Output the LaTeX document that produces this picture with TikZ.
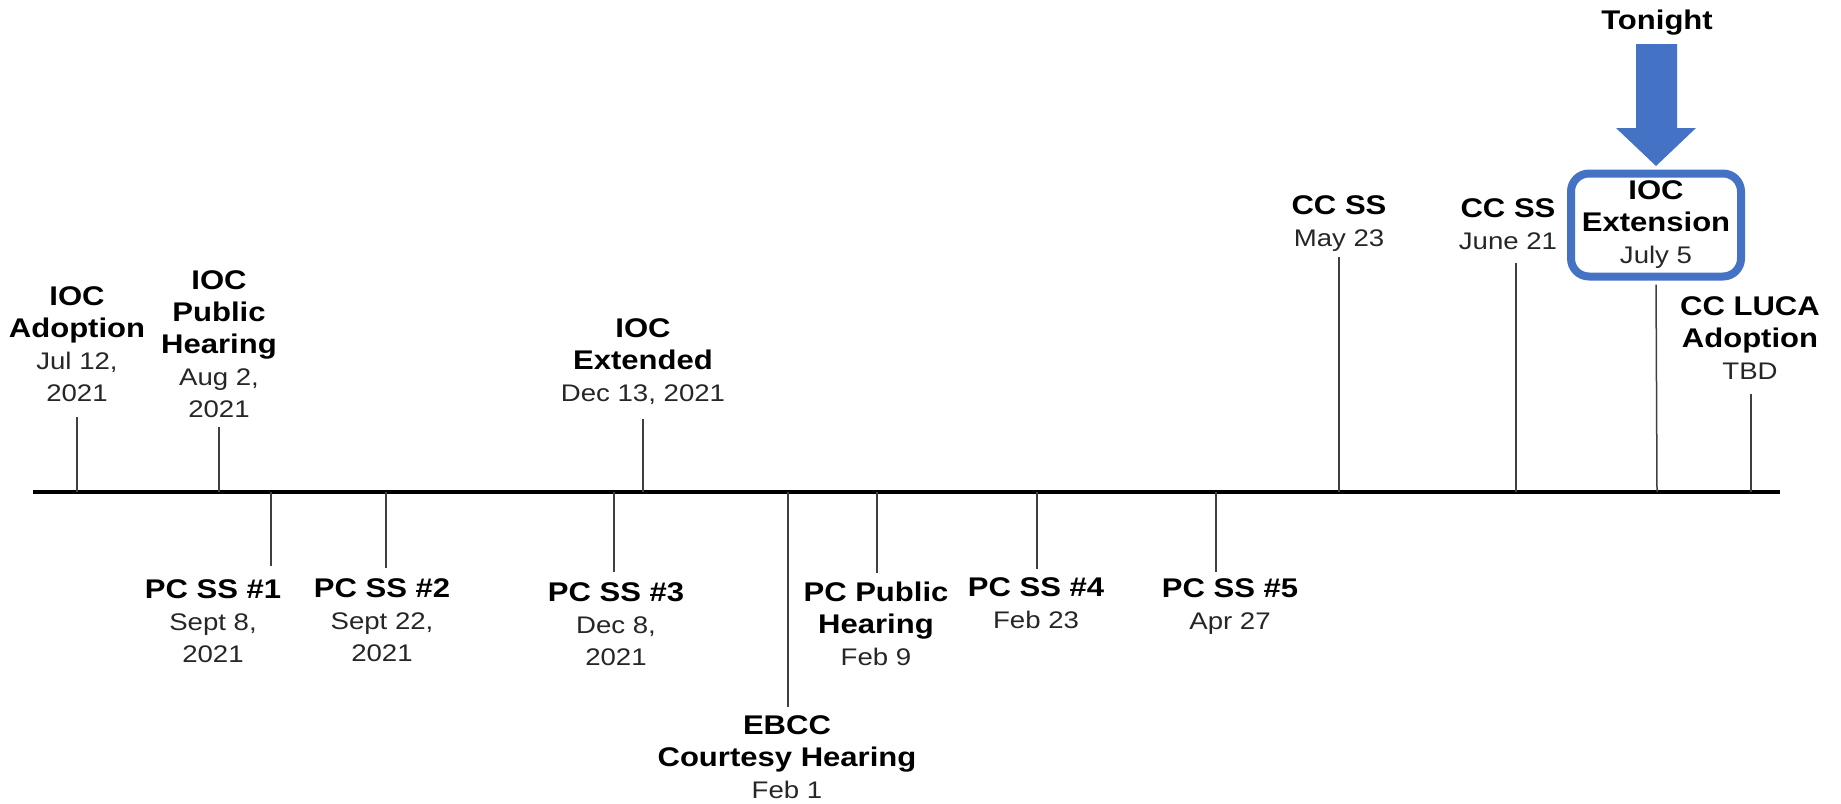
\documentclass[tikz,border=0pt]{standalone}
\usepackage{fontspec}
\setmainfont{Liberation Sans}[FakeStretch=1.15]
\definecolor{tblue}{RGB}{68,114,196}
\newcommand{\dte}[1]{{\fontsize{24}{32}\selectfont\mdseries\color{black!85}#1}}

\begin{document}
\begin{tikzpicture}[x=1pt, y=-1pt,
    evt/.style={align=center, inner sep=0pt, anchor=north,
      font=\fontsize{27}{32}\selectfont\bfseries},
    tick/.style={line width=1.5pt, black!75}]
  \useasboundingbox (0,0) rectangle (1841,803);
  % time line
  \coordinate (axl) at (33,492);
  \coordinate (axr) at (1780,492);
  \draw[line width=4pt] (axl) -- (axr);

  % above the line
  \node[evt] (adopt) at (77,286) {IOC\\Adoption\\\dte{Jul 12,}\\\dte{2021}};
  \node[evt] (pubhear) at (219,270) {IOC\\Public\\Hearing\\\dte{Aug 2,}\\\dte{2021}};
  \node[evt] (extended) at (643,318) {IOC\\Extended\\\dte{Dec 13, 2021}};
  \node[evt] (ccmay) at (1339,195) {CC SS\\\dte{May 23}};
  \node[evt] (ccjune) at (1508,198) {CC SS\\\dte{June 21}};
  \node[evt] (luca) at (1750,296) {CC LUCA\\Adoption\\\dte{TBD}};

  % below the line
  \node[evt] (pcss1) at (213,579) {PC SS \#1\\\dte{Sept 8,}\\\dte{2021}};
  \node[evt] (pcss2) at (382,578) {PC SS \#2\\\dte{Sept 22,}\\\dte{2021}};
  \node[evt] (pcss3) at (616,582) {PC SS \#3\\\dte{Dec 8,}\\\dte{2021}};
  \node[evt] (ebcc) at (787,715) {EBCC\\Courtesy Hearing\\\dte{Feb 1}};
  \node[evt] (pcpub) at (876,582) {PC Public\\Hearing\\\dte{Feb 9}};
  \node[evt] (pcss4) at (1036,577) {PC SS \#4\\\dte{Feb 23}};
  \node[evt] (pcss5) at (1230,578) {PC SS \#5\\\dte{Apr 27}};

  % ticks
  \foreach \n/\x/\g in {adopt/77/16pt, pubhear/219/10pt, extended/643/14.5pt,
      ccmay/1339/6pt, ccjune/1516/14pt, luca/1751/15pt}
  {
    \coordinate (t-\n) at (\x,492);
    \draw[tick, shorten >=\g] (t-\n) -- (t-\n |- \n.south);
  }
  \foreach \n/\x/\g in {pcss1/271/12.7pt, pcss2/386/9.7pt, pcss3/614/9.7pt,
      ebcc/788/7.7pt, pcpub/877/9.3pt, pcss4/1037/7.7pt, pcss5/1216/5.7pt}
  {
    \coordinate (t-\n) at (\x,492);
    \draw[tick, shorten >=\g] (t-\n) -- (t-\n |- \n.north);
  }

  % tonight
  \node[evt, anchor=base] (tonight) at (1657,29) {Tonight};
  \fill[tblue] (1636,44) -- (1677,44) -- (1677,128) -- (1696,128)
    -- (1656,166) -- (1616,128) -- (1636,128) -- cycle;
  \node[evt, anchor=center, draw=tblue, line width=8pt, rounded corners=18pt,
    minimum width=170pt, minimum height=103pt, fill=white] (ext) at (1656,225)
    {IOC\\Extension\\\dte{July 5}};
  \coordinate (t-ext) at (1657,492);
  \draw[tick, shorten >=4pt] (t-ext) -- (ext.south);
\end{tikzpicture}
\end{document}
